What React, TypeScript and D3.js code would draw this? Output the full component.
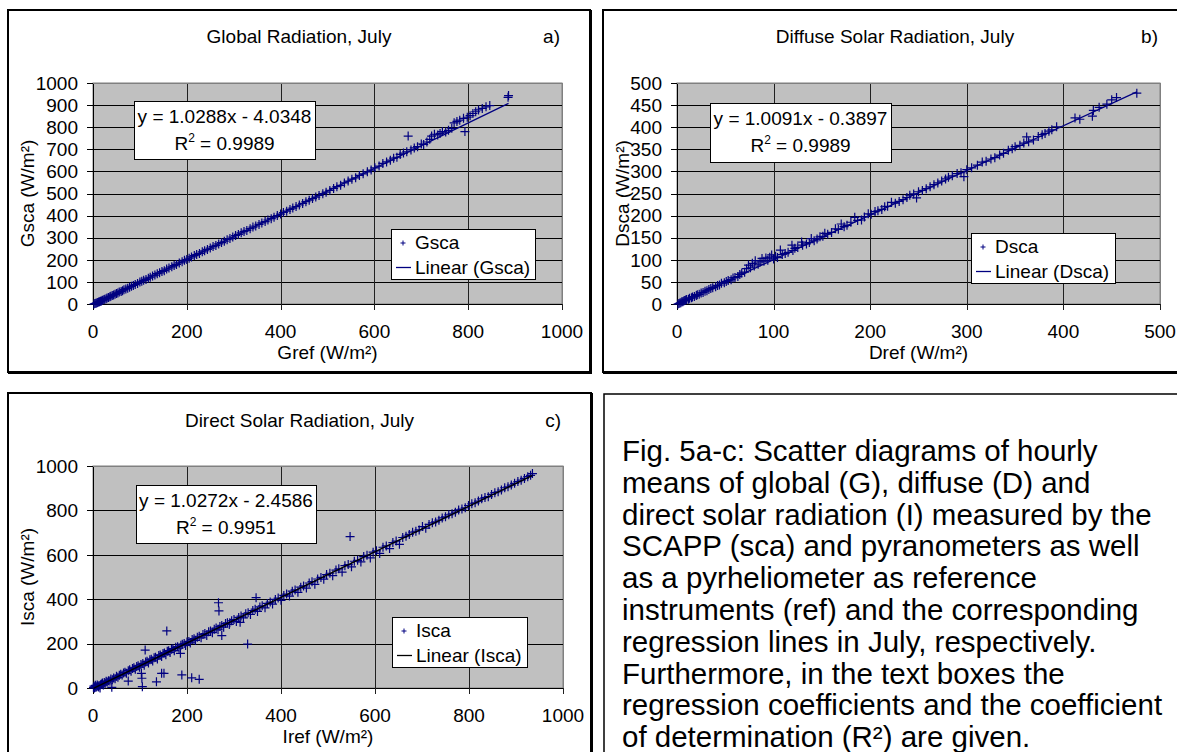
import React from "react"
import * as d3 from "d3"

const FONT = "'Liberation Sans', Arial, Helvetica, sans-serif"
const NAVY = "#000080"

// a) Global radiation, July: [Gref, Gsca] in W/m²
const globalPoints: [number, number][] = [
  [2, 0], [4, 2], [6, 3], [8, 5], [10, 7], [12, 9], [14, 10], [16, 13], [18, 14], [20, 17],
  [23, 19], [25, 22], [28, 24], [30, 27], [33, 29], [36, 33], [38, 35], [41, 38], [44, 41], [47, 44],
  [50, 47], [53, 50], [56, 54], [60, 57], [63, 60], [66, 65], [70, 68], [74, 71], [78, 76], [82, 80],
  [86, 84], [90, 88], [95, 93], [100, 99], [104, 103], [108, 107], [113, 111], [118, 117], [122, 121],
  [127, 127], [132, 131], [137, 137], [142, 141], [147, 147], [152, 151], [157, 158], [162, 163],
  [168, 168], [173, 174], [178, 179], [184, 186], [190, 191], [195, 198], [200, 201], [205, 207],
  [210, 213], [216, 219], [221, 224], [227, 229], [233, 236], [238, 241], [244, 247], [250, 253],
  [256, 260], [262, 265], [268, 272], [274, 278], [280, 284], [286, 291], [292, 296], [298, 303],
  [304, 310], [310, 315], [316, 322], [322, 328], [328, 333], [335, 341], [341, 348], [347, 353],
  [354, 360], [360, 367], [367, 373], [373, 380], [380, 386], [386, 393], [393, 400], [400, 407],
  [406, 414], [413, 420], [420, 428], [426, 434], [433, 441], [440, 448], [447, 455], [454, 463],
  [461, 470], [468, 477], [475, 484], [482, 491], [490, 499], [497, 506], [505, 514], [513, 523],
  [520, 531], [528, 537], [536, 548], [544, 556], [552, 565], [560, 571], [568, 582], [576, 589],
  [585, 598], [593, 606], [601, 616], [610, 624], [618, 636], [626, 643], [634, 651], [641, 660],
  [648, 664], [655, 677], [662, 683], [669, 689], [672, 760], [678, 697], [685, 706], [692, 712],
  [700, 724], [705, 722], [712, 733], [718, 745], [722, 760], [728, 768], [735, 765], [740, 772],
  [745, 780], [752, 778], [758, 786], [765, 795], [770, 820], [776, 826], [782, 832], [790, 840],
  [793, 780], [798, 845], [804, 852], [810, 862], [816, 870], [822, 878], [830, 885], [838, 892],
  [846, 898], [885, 935], [886, 943],
]
const globalFit = [1.0288, -4.0348, 0.9989] // slope, intercept, R²
const globalTicksX = [0, 200, 400, 600, 800, 1000]
const globalTicksY = [0, 100, 200, 300, 400, 500, 600, 700, 800, 900, 1000]

// b) Diffuse solar radiation, July: [Dref, Dsca] in W/m²
const diffusePoints: [number, number][] = [
  [1, 0], [2, 1], [3, 2], [4, 3], [5, 5], [6, 5], [7, 7], [8, 8], [9, 9], [10, 10], [12, 11], [13, 13],
  [15, 14], [16, 16], [18, 17], [20, 19], [21, 21], [23, 22], [25, 25], [27, 26], [29, 29], [31, 30],
  [33, 33], [35, 35], [37, 37], [40, 39], [42, 42], [44, 43], [46, 47], [49, 48], [51, 51], [53, 53],
  [56, 55], [58, 59], [60, 60], [63, 62], [65, 67], [67, 70], [70, 72], [72, 80], [74, 88], [76, 82],
  [78, 92], [80, 86], [81, 98], [84, 90], [86, 95], [88, 103], [90, 97], [92, 104], [94, 99], [96, 106],
  [98, 111], [100, 102], [102, 108], [104, 105], [107, 122], [109, 112], [112, 114], [115, 117],
  [119, 133], [120, 121], [122, 126], [125, 128], [129, 140], [130, 133], [134, 136], [137, 139],
  [139, 148], [142, 143], [145, 147], [148, 152], [151, 153], [153, 160], [156, 158], [160, 162],
  [164, 170], [167, 169], [170, 181], [173, 175], [176, 178], [180, 185], [184, 196], [187, 189],
  [191, 190], [194, 197], [198, 204], [201, 203], [205, 209], [208, 211], [212, 214], [215, 220],
  [218, 221], [222, 230], [226, 228], [230, 232], [234, 236], [238, 241], [241, 246], [245, 249],
  [248, 240], [250, 254], [254, 257], [258, 261], [262, 265], [266, 270], [270, 274], [274, 278],
  [278, 283], [281, 287], [285, 290], [290, 295], [294, 297], [297, 288], [300, 304], [305, 308],
  [311, 314], [316, 321], [320, 323], [325, 328], [329, 331], [334, 337], [338, 341], [343, 348],
  [347, 351], [350, 356], [355, 359], [359, 364], [362, 378], [364, 367], [369, 371], [374, 379],
  [378, 383], [381, 386], [385, 391], [388, 394], [393, 401], [412, 421], [417, 418], [430, 425],
  [431, 438], [437, 445], [445, 452], [450, 462], [455, 467], [476, 477],
]
const diffuseFit = [1.0091, -0.3897, 0.9989]
const diffuseTicksX = [0, 100, 200, 300, 400, 500]
const diffuseTicksY = [0, 50, 100, 150, 200, 250, 300, 350, 400, 450, 500]

// c) Direct solar radiation, July: [Iref, Isca] in W/m²
const directPoints: [number, number][] = [
  [1, 2], [2, 8], [3, 0], [4, 5], [5, 12], [6, 3], [8, 6], [9, 14], [10, 9], [12, 4], [13, 11], [15, 0],
  [16, 15], [18, 18], [20, 22], [22, 14], [24, 25], [26, 21], [28, 30], [30, 27], [33, 33], [36, 31],
  [38, 40], [40, 3], [41, 37], [44, 45], [47, 42], [50, 53], [53, 48], [56, 57], [59, 62], [62, 58],
  [65, 68], [68, 71], [71, 66], [75, 31], [75, 78], [78, 82], [81, 76], [84, 88], [87, 91], [90, 85],
  [93, 97], [96, 100], [99, 94], [102, 106], [103, 66], [104, 44], [105, 6], [106, 110], [109, 103],
  [111, 171], [112, 117], [115, 120], [118, 113], [121, 127], [124, 130], [127, 122], [130, 136],
  [133, 138], [135, 28], [137, 131], [140, 146], [143, 149], [146, 66], [146, 142], [149, 155],
  [151, 66], [152, 158], [155, 150], [157, 257], [158, 165], [161, 168], [164, 160], [167, 174],
  [170, 177], [173, 168], [176, 183], [180, 186], [183, 179], [186, 156], [187, 193], [189, 59],
  [190, 197], [194, 200], [197, 192], [200, 207], [204, 210], [207, 203], [210, 46], [211, 218],
  [215, 222], [218, 214], [222, 229], [226, 39], [226, 233], [230, 226], [234, 241], [238, 245],
  [242, 237], [246, 253], [250, 257], [254, 249], [258, 265], [262, 270], [266, 262], [267, 384],
  [268, 347], [270, 277], [274, 236], [274, 282], [278, 274], [282, 290], [286, 294], [290, 286],
  [291, 294], [295, 303], [300, 308], [305, 300], [310, 318], [313, 296], [315, 324], [320, 316],
  [325, 334], [329, 198], [330, 339], [335, 331], [340, 349], [345, 355], [347, 407], [350, 345],
  [355, 365], [360, 370], [366, 361], [371, 381], [377, 387], [382, 378], [388, 399], [394, 405],
  [400, 395], [406, 417], [412, 423], [418, 414], [424, 436], [430, 442], [436, 431], [442, 454],
  [448, 460], [454, 450], [460, 473], [466, 479], [472, 467], [478, 491], [485, 498], [491, 490],
  [497, 511], [504, 517], [510, 506], [517, 531], [523, 537], [530, 522], [536, 551], [543, 556],
  [547, 682], [550, 546], [556, 571], [563, 575], [570, 568], [576, 592], [583, 598], [590, 586],
  [596, 612], [603, 618], [610, 606], [617, 634], [624, 640], [631, 628], [638, 655], [645, 662],
  [652, 647], [659, 678], [666, 684], [673, 692], [680, 702], [687, 706], [694, 712], [701, 727],
  [708, 720], [715, 737], [722, 744], [729, 748], [736, 756], [743, 766], [750, 771], [757, 780],
  [764, 785], [771, 792], [778, 802], [785, 806], [792, 812], [799, 822], [806, 830], [813, 834],
  [820, 842], [827, 852], [834, 858], [841, 862], [848, 872], [855, 880], [862, 884], [869, 892],
  [876, 902], [883, 906], [890, 914], [897, 922], [904, 930], [911, 936], [918, 944], [925, 952],
  [931, 958], [935, 966],
]
const directFit = [1.0272, -2.4586, 0.9951]
const directTicksX = [0, 200, 400, 600, 800, 1000]
const directTicksY = [0, 200, 400, 600, 800, 1000]

const captionLines = [
  "Fig. 5a-c: Scatter diagrams of hourly",
  "means of global (G), diffuse (D) and",
  "direct solar radiation (I) measured by the",
  "SCAPP (sca) and pyranometers as well",
  "as a pyrheliometer as reference",
  "instruments (ref) and the corresponding",
  "regression lines in July, respectively.",
  "Furthermore, in the text boxes the",
  "regression coefficients and the coefficient",
  "of determination (R²) are given.",
]

type Box = { x: number; y: number; w: number; h: number }

type PanelProps = {
  frame: Box
  plot: { left: number; top: number; right: number; bottom: number }
  title: string
  tag: string
  titleY: number
  xLabel: string
  yLabel: string
  yLabelX: number
  seriesName: string
  points: [number, number][]
  fit: number[]
  ticksX: number[]
  ticksY: number[]
  eqBox: Box
  legendBox: Box
  lineColor: string
}

const Plus = ({ x, y, r, w = 1.2 }: { x: number; y: number; r: number; w?: number }) => (
  <path d={`M${x - r},${y}H${x + r}M${x},${y - r}V${y + r}`} stroke={NAVY} strokeWidth={w} fill="none" />
)

const Panel = (p: PanelProps) => {
  const { plot } = p
  const x = d3.scaleLinear().domain([p.ticksX[0], p.ticksX[p.ticksX.length - 1]]).range([plot.left, plot.right])
  const y = d3.scaleLinear().domain([p.ticksY[0], p.ticksY[p.ticksY.length - 1]]).range([plot.bottom, plot.top])
  const [slope, intercept, r2] = p.fit
  const ext = d3.extent(p.points, (d) => d[0]) as [number, number]
  const fitLine = d3.line<number>().x((v) => x(v)).y((v) => y(slope * v + intercept))(ext)
  const sign = intercept < 0 ? "-" : "+"
  const eqText = `y = ${slope.toFixed(4)}x ${sign} ${Math.abs(intercept).toFixed(4)}`
  const cx = (plot.left + plot.right) / 2
  const cy = (plot.top + plot.bottom) / 2

  return (
    <g fontFamily={FONT} fontSize={19} fill="#000">
      <rect x={p.frame.x + 1} y={p.frame.y + 1} width={p.frame.w} height={p.frame.h} fill="none" stroke="#000" strokeWidth={2} />
      <rect x={p.frame.x} y={p.frame.y} width={p.frame.w} height={p.frame.h} fill="#fff" stroke="#000" strokeWidth={2} />
      <text x={p.frame.x + p.frame.w / 2} y={p.titleY} textAnchor="middle">{p.title}</text>
      <text x={plot.right - 2} y={p.titleY} textAnchor="end">{p.tag}</text>

      <rect x={plot.left} y={plot.top} width={plot.right - plot.left} height={plot.bottom - plot.top} fill="#c0c0c0" stroke="#808080" strokeWidth={1} />
      {p.ticksY.map((t) => (
        <line key={"gy" + t} x1={plot.left - 6} x2={plot.right} y1={Math.round(y(t)) + 0.5} y2={Math.round(y(t)) + 0.5} stroke="#000" strokeWidth={1} />
      ))}
      {p.ticksX.map((t) => (
        <line key={"gx" + t} x1={Math.round(x(t)) + 0.5} x2={Math.round(x(t)) + 0.5} y1={plot.top} y2={plot.bottom + 6} stroke={t === 0 ? "#000" : "#202020"} strokeWidth={1} />
      ))}
      <line x1={plot.right + 0.5} x2={plot.right + 0.5} y1={plot.top} y2={plot.bottom} stroke="#808080" />
      <line x1={plot.left} x2={plot.right} y1={plot.top + 0.5} y2={plot.top + 0.5} stroke="#808080" />

      {p.ticksY.map((t) => (
        <text key={"ty" + t} x={plot.left - 15} y={y(t) + 6.7} textAnchor="end">{t}</text>
      ))}
      {p.ticksX.map((t) => (
        <text key={"tx" + t} x={x(t)} y={plot.bottom + 34} textAnchor="middle">{t}</text>
      ))}
      <text x={cx} y={plot.bottom + 55} textAnchor="middle">{p.xLabel}</text>
      <text transform={`translate(${p.yLabelX},${cy}) rotate(-90)`} textAnchor="middle">{p.yLabel}</text>

      <g>
        {p.points.map((d, i) => (
          <Plus key={i} x={x(d[0])} y={y(d[1])} r={4.5} />
        ))}
      </g>
      <path d={fitLine ?? ""} stroke={p.lineColor} strokeWidth={1.3} fill="none" />

      <rect x={p.eqBox.x + 0.5} y={p.eqBox.y + 0.5} width={p.eqBox.w} height={p.eqBox.h} fill="#fff" stroke="#000" strokeWidth={1} />
      <text x={p.eqBox.x + p.eqBox.w / 2} y={p.eqBox.y + 22} textAnchor="middle">{eqText}</text>
      <text x={p.eqBox.x + p.eqBox.w / 2} y={p.eqBox.y + 49} textAnchor="middle">
        <tspan>R</tspan>
        <tspan dy={-8} fontSize={12}>2</tspan>
        <tspan dy={8}>{` = ${r2.toFixed(4)}`}</tspan>
      </text>

      <rect x={p.legendBox.x + 0.5} y={p.legendBox.y + 0.5} width={p.legendBox.w} height={p.legendBox.h} fill="#fff" stroke="#000" strokeWidth={1} />
      <Plus x={p.legendBox.x + 12} y={p.legendBox.y + 14} r={2.5} w={1} />
      <text x={p.legendBox.x + 24} y={p.legendBox.y + 20}>{p.seriesName}</text>
      <line x1={p.legendBox.x + 5} x2={p.legendBox.x + 20} y1={p.legendBox.y + 38.5} y2={p.legendBox.y + 38.5} stroke={p.lineColor} strokeWidth={1.3} />
      <text x={p.legendBox.x + 24} y={p.legendBox.y + 45}>{`Linear (${p.seriesName})`}</text>
    </g>
  )
}

export default function App() {
  return (
    <svg width={1177} height={752} style={{ position: "absolute", left: 0, top: 0, background: "#fff" }}>
      <Panel
        frame={{ x: 8, y: 10, w: 582, h: 362 }}
        plot={{ left: 93, top: 83, right: 562, bottom: 304 }}
        title="Global Radiation, July"
        tag="a)"
        titleY={43}
        xLabel="Gref (W/m²)"
        yLabel="Gsca (W/m²)"
        yLabelX={34}
        seriesName="Gsca"
        points={globalPoints}
        fit={globalFit}
        ticksX={globalTicksX}
        ticksY={globalTicksY}
        eqBox={{ x: 134, y: 101, w: 181, h: 58 }}
        legendBox={{ x: 391, y: 229, w: 144, h: 50 }}
        lineColor={NAVY}
      />
      <Panel
        frame={{ x: 603, y: 10, w: 584, h: 362 }}
        plot={{ left: 677, top: 83, right: 1160, bottom: 304 }}
        title="Diffuse Solar Radiation, July"
        tag="b)"
        titleY={43}
        xLabel="Dref (W/m²)"
        yLabel="Dsca (W/m²)"
        yLabelX={629}
        seriesName="Dsca"
        points={diffusePoints}
        fit={diffuseFit}
        ticksX={diffuseTicksX}
        ticksY={diffuseTicksY}
        eqBox={{ x: 710, y: 103, w: 181, h: 59 }}
        legendBox={{ x: 971, y: 233, w: 144, h: 50 }}
        lineColor={NAVY}
      />
      <Panel
        frame={{ x: 8, y: 393, w: 583, h: 400 }}
        plot={{ left: 93, top: 466, right: 563, bottom: 688 }}
        title="Direct Solar Radiation, July"
        tag="c)"
        titleY={427}
        xLabel="Iref (W/m²)"
        yLabel="Isca (W/m²)"
        yLabelX={34}
        seriesName="Isca"
        points={directPoints}
        fit={directFit}
        ticksX={directTicksX}
        ticksY={directTicksY}
        eqBox={{ x: 136, y: 485, w: 180, h: 58 }}
        legendBox={{ x: 392, y: 617, w: 135, h: 50 }}
        lineColor="#000"
      />
      <rect x={604} y={394} width={600} height={400} fill="#fff" stroke="#000" strokeWidth={1.5} />
      <text fontFamily={FONT} fontSize={29.5} fill="#000">
        {captionLines.map((s, i) => (
          <tspan key={i} x={622} y={461 + i * 31.8}>{s}</tspan>
        ))}
      </text>
    </svg>
  )
}
